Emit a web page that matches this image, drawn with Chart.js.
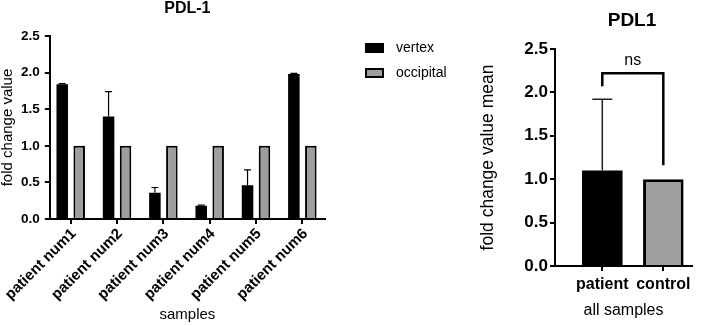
<!DOCTYPE html>
<html><head><meta charset="utf-8">
<script src="https://cdn.jsdelivr.net/npm/chart.js@4/dist/chart.umd.min.js"></script>
<style>
html,body{margin:0;padding:0;background:#fff;}
#wrap{position:relative;width:706px;height:326px;overflow:hidden;background:#fff;}
#c1{position:absolute;left:0;top:0;}
#c2{position:absolute;left:470px;top:0;}
</style></head><body>
<div id="wrap"><canvas id="c1" width="470" height="326"></canvas><canvas id="c2" width="236" height="326"></canvas></div>
<script>
// ---- data ----
const patients = ['patient num1','patient num2','patient num3','patient num4','patient num5','patient num6'];
const vertexValues = [1.84, 1.40, 0.36, 0.18, 0.46, 1.98];
const vertexErrors = [0.01, 0.34, 0.07, 0.01, 0.21, 0.01];
const occipitalValues = [1, 1, 1, 1, 1, 1];
const yTicks = [0, 0.5, 1.0, 1.5, 2.0, 2.5];
const groupLabels = ['patient', 'control'];
const groupMeans = [1.10, 1.00];
const groupErrors = [0.82, 0];
const sigLabel = 'ns';

const FONT = "'Liberation Sans', Arial, Helvetica, sans-serif";
Chart.defaults.font.family = FONT;
Chart.defaults.color = '#000';

const BLACK = '#000000';
const GRAY = '#9e9e9e';

function axisCommon() {
  return {
    grid: {display: true, drawOnChartArea: false, drawTicks: true, tickLength: 5, color: BLACK, lineWidth: 2, offset: false},
    border: {display: true, color: BLACK, width: 2}
  };
}

// ---- left chart plugins ----
const leftExtras = {
  id: 'leftExtras',
  afterDatasetsDraw(chart) {
    const ctx = chart.ctx;
    const y = chart.scales.y;
    const meta = chart.getDatasetMeta(0);
    ctx.save();
    ctx.strokeStyle = BLACK;
    ctx.lineWidth = 1.2;
    meta.data.forEach((bar, i) => {
      const top = y.getPixelForValue(vertexValues[i] + vertexErrors[i]);
      ctx.beginPath();
      ctx.moveTo(bar.x, bar.y);
      ctx.lineTo(bar.x, top);
      ctx.moveTo(bar.x - 3.5, top);
      ctx.lineTo(bar.x + 3.5, top);
      ctx.stroke();
    });
    ctx.restore();
  },
  afterDraw(chart) {
    const ctx = chart.ctx;
    const area = chart.chartArea;
    ctx.save();
    ctx.fillStyle = BLACK;
    ctx.textAlign = 'center';
    ctx.textBaseline = 'middle';
    ctx.font = "bold 16px " + FONT;
    ctx.fillText('PDL-1', (area.left + area.right) / 2, 9);
    // legend
    const items = [
      {label: chart.data.datasets[0].label, fill: BLACK, y: 48},
      {label: chart.data.datasets[1].label, fill: GRAY, y: 73}
    ];
    ctx.font = "14px " + FONT;
    ctx.textAlign = 'left';
    items.forEach(it => {
      ctx.fillStyle = BLACK;
      ctx.fillRect(365, it.y - 5, 19, 10);
      if (it.fill !== BLACK) {
        ctx.fillStyle = it.fill;
        ctx.fillRect(367, it.y - 3, 15, 6);
      }
      ctx.fillStyle = BLACK;
      ctx.fillText(it.label, 396, it.y);
    });
    ctx.restore();
  }
};

new Chart(document.getElementById('c1'), {
  type: 'bar',
  data: {
    datasets: [
      {label: 'vertex', data: patients.map((p, i) => ({x: i, y: vertexValues[i]})),
       backgroundColor: BLACK, borderColor: BLACK, borderWidth: 0,
       categoryPercentage: 0.732, barPercentage: 0.68},
      {label: 'occipital', data: patients.map((p, i) => ({x: i, y: occipitalValues[i]})),
       backgroundColor: GRAY, borderColor: BLACK, borderWidth: 2,
       categoryPercentage: 0.732, barPercentage: 0.68}
    ]
  },
  options: {
    responsive: false, animation: false, devicePixelRatio: 1,
    layout: {padding: {top: 36, right: 145, left: 0, bottom: 0}},
    plugins: {legend: {display: false}, tooltip: {enabled: false}, title: {display: false}},
    scales: {
      x: Object.assign(axisCommon(), {
        type: 'linear', min: -0.452, max: 5.489, offset: false,
        afterBuildTicks: s => { s.ticks = patients.map((p, i) => ({value: i})); },
        afterFit: s => { s.height = 107; },
        ticks: {autoSkip: false, minRotation: 45, maxRotation: 45, padding: 1, labelOffset: 3,
                callback: v => (patients[v] !== undefined ? patients[v] : ''),
                font: {size: 15, weight: 'bold'}, color: BLACK},
        title: {display: true, text: 'samples', font: {size: 15}, color: BLACK, padding: {top: 0, bottom: 2}}
      }),
      y: Object.assign(axisCommon(), {
        min: 0, max: 2.5,
        afterBuildTicks: s => { s.ticks = yTicks.map(v => ({value: v})); },
        afterFit: s => { s.width = 49; },
        ticks: {padding: 5, callback: v => Number(v).toFixed(1), font: {size: 13.5, weight: 'bold'}, color: BLACK},
        title: {display: true, text: 'fold change value', font: {size: 15, lineHeight: 1}, color: BLACK, padding: {top: 0, bottom: 0}}
      })
    }
  },
  plugins: [leftExtras]
});

// ---- right chart ----
const rightExtras = {
  id: 'rightExtras',
  afterDatasetsDraw(chart) {
    const ctx = chart.ctx;
    const y = chart.scales.y;
    const x = chart.scales.x;
    const meta = chart.getDatasetMeta(0);
    ctx.save();
    // error bars
    ctx.strokeStyle = '#222';
    ctx.lineWidth = 1.5;
    meta.data.forEach((bar, i) => {
      if (!groupErrors[i]) return;
      const top = y.getPixelForValue(groupMeans[i] + groupErrors[i]);
      ctx.beginPath();
      ctx.moveTo(bar.x, bar.y);
      ctx.lineTo(bar.x, top);
      ctx.moveTo(bar.x - 10, top);
      ctx.lineTo(bar.x + 10, top);
      ctx.stroke();
    });
    // significance bracket
    const x0 = x.getPixelForValue(0), x1 = x.getPixelForValue(1);
    const yTop = y.getPixelForValue(2.22);
    ctx.strokeStyle = BLACK;
    ctx.lineWidth = 2.5;
    ctx.beginPath();
    ctx.moveTo(x0, y.getPixelForValue(2.07));
    ctx.lineTo(x0, yTop);
    ctx.lineTo(x1, yTop);
    ctx.lineTo(x1, y.getPixelForValue(1.16));
    ctx.stroke();
    ctx.fillStyle = BLACK;
    ctx.textAlign = 'center';
    ctx.textBaseline = 'middle';
    ctx.font = "16px " + FONT;
    ctx.fillText(sigLabel, x.getPixelForValue(0.5), y.getPixelForValue(2.37));
    ctx.restore();
  },
  afterDraw(chart) {
    const ctx = chart.ctx;
    ctx.save();
    ctx.fillStyle = BLACK;
    ctx.textAlign = 'center';
    ctx.textBaseline = 'middle';
    ctx.font = "bold 19px " + FONT;
    ctx.fillText('PDL1', 162, 21);
    ctx.restore();
  }
};

new Chart(document.getElementById('c2'), {
  type: 'bar',
  data: {
    datasets: [
      {label: 'mean', data: groupLabels.map((l, i) => ({x: i, y: groupMeans[i]})),
       backgroundColor: [BLACK, GRAY], borderColor: BLACK, borderWidth: [0, 3],
       categoryPercentage: 1, barPercentage: 0.664}
    ]
  },
  options: {
    responsive: false, animation: false, devicePixelRatio: 1,
    layout: {padding: {top: 49, right: 14, left: 0, bottom: 0}},
    plugins: {legend: {display: false}, tooltip: {enabled: false}, title: {display: false}},
    scales: {
      x: Object.assign(axisCommon(), {
        type: 'linear', min: -0.775, max: 1.47, offset: false,
        afterBuildTicks: s => { s.ticks = groupLabels.map((l, i) => ({value: i})); },
        afterFit: s => { s.height = 60; },
        ticks: {autoSkip: false, maxRotation: 0, minRotation: 0, padding: 4,
                callback: v => (groupLabels[v] !== undefined ? groupLabels[v] : ''),
                font: {size: 16, weight: 'bold'}, color: BLACK},
        title: {display: true, text: 'all samples', font: {size: 16}, color: BLACK, padding: {top: 0, bottom: 6}}
      }),
      y: Object.assign(axisCommon(), {
        min: 0, max: 2.5,
        afterBuildTicks: s => { s.ticks = yTicks.map(v => ({value: v})); },
        afterFit: s => { s.width = 85; },
        ticks: {padding: 2, callback: v => Number(v).toFixed(1), font: {size: 17, weight: 'bold'}, color: BLACK},
        title: {display: true, text: 'fold change value mean', font: {size: 17.5, lineHeight: 1}, color: BLACK, padding: {top: 9, bottom: 0}}
      })
    }
  },
  plugins: [rightExtras]
});
</script>
</body></html>
